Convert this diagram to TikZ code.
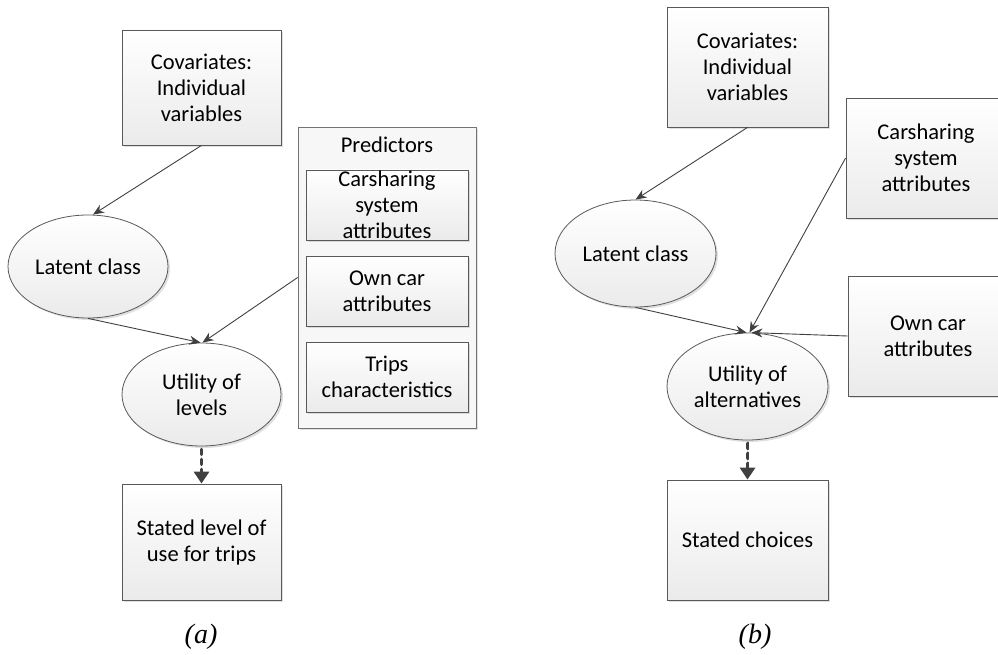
\documentclass[tikz,border=0pt]{standalone}
\usepackage{fontspec}
\setmainfont{Carlito}
\newfontfamily\capfont{Liberation Serif}
\usetikzlibrary{arrows.meta,shapes.geometric,shadows}
\begin{document}
\begin{tikzpicture}[x=1pt,y=-1pt,
  every node/.style={font=\fontsize{22.5pt}{26pt}\selectfont, align=center, inner sep=0pt},
  shade/.style={top color=white, bottom color=black!8, draw=black!65, line width=0.8pt,
    drop shadow={shadow xshift=2pt, shadow yshift=-2pt, opacity=0.2, fill=black!60}},
  boxn/.style={shade, rectangle},
  elln/.style={shade, ellipse},
  outerbox/.style={rectangle, draw=black!55, line width=0.8pt, fill=black!3,
    drop shadow={shadow xshift=2pt, shadow yshift=-2pt, opacity=0.2, fill=black!60}},
  conn/.style={draw=black!75, line width=0.9pt, -{Stealth[length=11pt,width=9pt]}},
  dconn/.style={draw=black!75, line width=3.8pt, dash pattern=on 5pt off 5pt, line cap=round,
    -{Triangle[length=12pt,width=15pt]}},
  caption/.style={font=\capfont\itshape\fontsize{28pt}{32pt}\selectfont}
]
\useasboundingbox (0,0) rectangle (998,655);
\clip (0,0) rectangle (998,655);

% ---------- panel (a) ----------
\node[boxn, minimum width=159pt, minimum height=115pt] (covA) at (201.5,87.5) {Covariates:\\Individual\\variables};
\node[outerbox, minimum width=178pt, minimum height=301pt] (predA) at (387,277.5) {};
\node (predT) at (387,145) {Predictors};
\node[boxn, minimum width=162pt, minimum height=70pt] (csA) at (387,205) {Carsharing\\system\\attributes};
\node[boxn, minimum width=162pt, minimum height=70pt] (ocA) at (387,291) {Own car\\attributes};
\node[boxn, minimum width=162pt, minimum height=70pt] (trA) at (387,377) {Trips\\characteristics};
\node[elln, minimum width=160pt, minimum height=103pt] (latA) at (88,266.5) {Latent class};
\node[elln, minimum width=159pt, minimum height=103pt] (utA) at (201.5,394.5) {Utility of\\levels};
\node[boxn, minimum width=159pt, minimum height=116pt] (stA) at (201.5,542) {Stated level of\\use for trips};
\node[caption] (capA) at (201,637) {(a)};

\draw[conn] (covA.south) -- ([xshift=5pt]latA.north);
\draw[conn] (latA.south) -- ([xshift=-1pt]utA.north);
\draw[conn] (predA.west) -- ([xshift=1pt]utA.north);
\draw[dconn] ([yshift=-3pt]utA.south) -- (stA.north);

% ---------- panel (b) ----------
\node[boxn, minimum width=161pt, minimum height=120pt] (covB) at (747.5,67) {Covariates:\\Individual\\variables};
\node[boxn, minimum width=160pt, minimum height=120pt] (csB) at (926,158) {Carsharing\\system\\attributes};
\node[boxn, minimum width=160pt, minimum height=120pt] (ocB) at (928,336) {Own car\\attributes};
\node[elln, minimum width=161pt, minimum height=107pt] (latB) at (635.5,253.5) {Latent class};
\node[elln, minimum width=161pt, minimum height=107pt] (utB) at (747.5,386.5) {Utility of\\alternatives};
\node[boxn, minimum width=161pt, minimum height=120pt] (stB) at (747.5,540) {Stated choices};
\node[caption] (capB) at (755,637) {(b)};

\draw[conn] (covB.south) -- (latB.north);
\draw[conn] (latB.south) -- ([xshift=-1pt]utB.north);
\draw[conn] (csB.west) -- ([xshift=2pt]utB.north);
\draw[conn] (ocB.west) -- ([xshift=4pt]utB.north);
\draw[dconn] ([yshift=-3pt]utB.south) -- (stB.north);
\end{tikzpicture}
\end{document}
